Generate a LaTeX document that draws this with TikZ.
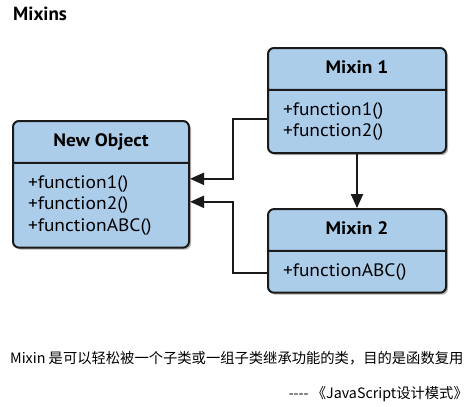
\documentclass[tikz,border=0pt]{standalone}
\usepackage{fontspec}
\setmainfont{PT Sans}
\newfontfamily\umlfont{PT Sans}[FakeStretch=1.08]
\newfontfamily\cjkfont{Noto Sans CJK SC}
\usetikzlibrary{arrows.meta, positioning, shapes.multipart, shadows}
\definecolor{clsfill}{HTML}{ACCDEA}
\definecolor{clsline}{HTML}{1A1A1A}
\newcommand{\clsname}[1]{\textbf{\rule[-4pt]{0pt}{13pt}#1}}
\tikzset{
  clsbox/.style  = {rectangle split, rectangle split parts=2,
                    rectangle split part align={center,left},
                    draw=clsline, line width=2pt, rounded corners=6pt, fill=clsfill,
                    drop shadow={opacity=0.6, shadow xshift=2pt, shadow yshift=-2pt},
                    font=\umlfont\fontsize{18}{21.5}\selectfont, align=left,
                    inner xsep=15pt, inner ysep=11.5pt, anchor=north west},
  flow/.style    = {-{Triangle[length=14pt, width=12pt]}, line width=2pt, draw=clsline},
  heading/.style = {font=\fontsize{19}{19}\selectfont\bfseries, anchor=west, inner sep=0pt},
  caption/.style = {font=\cjkfont\fontsize{14.3}{16}\selectfont, inner sep=0pt},
}

\begin{document}
\begin{tikzpicture}[x=1pt, y=-1pt]
    \useasboundingbox (0,0) rectangle (475,407);

    \node[heading] (title) at (13,14) {Mixins};

    \node[clsbox, minimum width=176pt]        (obj)    at (12,120)
        {\clsname{New Object}\nodepart{two}+function1()\\+function2()\\+functionABC()};
    \node[clsbox, minimum width=178pt]        (mixin1) at (267,47)
        {\clsname{Mixin 1}\nodepart{two}+function1()\\+function2()};
    \node[clsbox, minimum width=178pt, minimum height=99pt,
          below=54pt of mixin1.south west, anchor=north west] (mixin2)
        {\clsname{Mixin 2}\nodepart{two}+functionABC()};

    \draw[flow] ([yshift=-18.5pt]mixin1.west) -- ++(-34pt,0) |- ([yshift=5.5pt]obj.east);
    \draw[flow] ([yshift=-22.5pt]mixin2.west) -- ++(-34pt,0) |- ([yshift=-17.5pt]obj.east);
    \draw[flow] (mixin1.south) -- (mixin2.north);

    \node[caption, anchor=base west] (note) at (10,363)
        {Mixin 是可以轻松被一个子类或一组子类继承功能的类，目的是函数复用};
    \node[caption, anchor=base east] (src)  at (468,398)
        {---- 《JavaScript设计模式》};
\end{tikzpicture}
\end{document}
